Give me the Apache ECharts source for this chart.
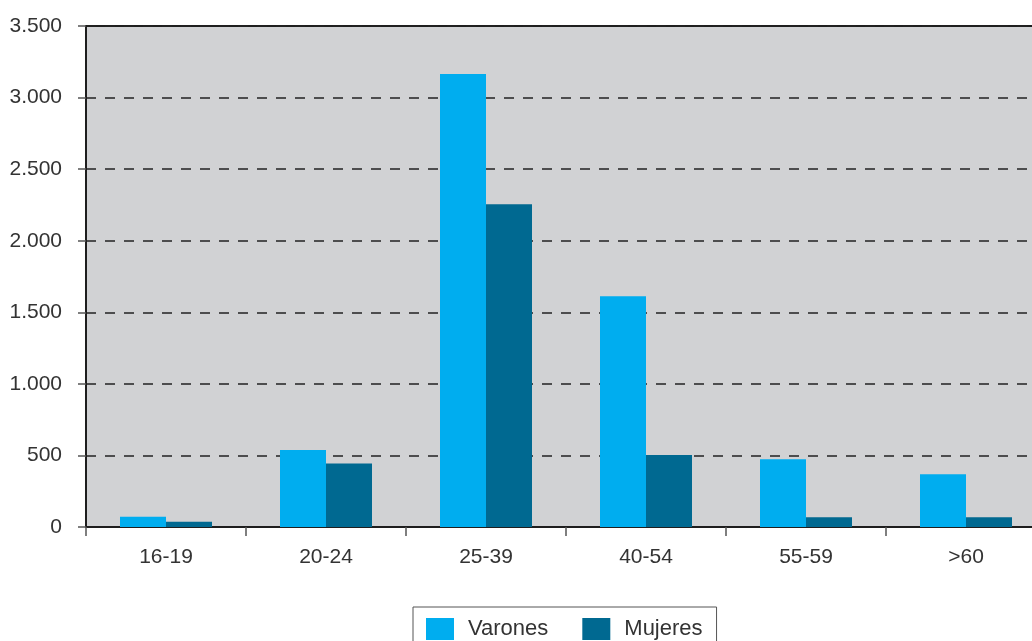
<!DOCTYPE html>
<html>
<head>
<meta charset="utf-8">
<script src="https://cdn.jsdelivr.net/npm/echarts@6/dist/echarts.min.js"></script>
<style>
html,body{margin:0;padding:0;background:#fff;}
#chart{width:1032px;height:641px;}
</style>
</head>
<body>
<div id="chart"></div>
<script>
const categories = ['16-19', '20-24', '25-39', '40-54', '55-59', '>60'];
const varones = [72, 538, 3165, 1612, 473, 368];
const mujeres = [37, 443, 2255, 503, 68, 68];
const seriesNames = ['Varones', 'Mujeres'];
const yTicks = { min: 0, max: 3500, interval: 500 };

const chart = echarts.init(document.getElementById('chart'));
const font = '"Liberation Sans", Arial, sans-serif';
function fmt(v) {
  return String(v).replace(/\B(?=(\d{3})+(?!\d))/g, '.');
}
chart.setOption({
  animation: false,
  backgroundColor: '#ffffff',
  grid: {
    left: 86, width: 960, top: 26, height: 501,
    outerBoundsMode: 'none',
    containLabel: false,
    show: true, backgroundColor: '#d1d2d4',
    borderColor: '#1e1e1e', borderWidth: 2
  },
  legend: {
    data: seriesNames,
    left: 413, top: 607,
    padding: [11, 14, 14, 13],
    itemWidth: 28, itemHeight: 22, itemGap: 34,
    borderColor: '#555', borderWidth: 1,
    icon: 'rect',
    textStyle: { fontFamily: font, fontSize: 22, color: '#333', padding: [0, 0, 0, 9] }
  },
  xAxis: {
    type: 'category',
    data: categories,
    axisLine: { lineStyle: { color: '#1e1e1e', width: 2 } },
    axisTick: { show: true, length: 9, lineStyle: { color: '#555', width: 1.5 } },
    axisLabel: { fontFamily: font, fontSize: 21, color: '#333', margin: 20 },
    splitLine: { show: false }
  },
  yAxis: {
    type: 'value',
    min: yTicks.min, max: yTicks.max, interval: yTicks.interval,
    axisLine: { show: true, lineStyle: { color: '#1e1e1e', width: 2 } },
    axisTick: { show: true, length: 8, lineStyle: { color: '#555', width: 1.5 } },
    axisLabel: { fontFamily: font, fontSize: 21, color: '#333', margin: 24, formatter: fmt },
    splitLine: { show: true, lineStyle: { color: '#222', width: 1.5, type: [10, 9] } }
  },
  series: [
    { name: seriesNames[0], type: 'bar', data: varones, barWidth: 46, barGap: '0%',
      itemStyle: { color: '#00adef' } },
    { name: seriesNames[1], type: 'bar', data: mujeres, barWidth: 46, barGap: '0%',
      itemStyle: { color: '#006991' } }
  ]
});
</script>
</body>
</html>
